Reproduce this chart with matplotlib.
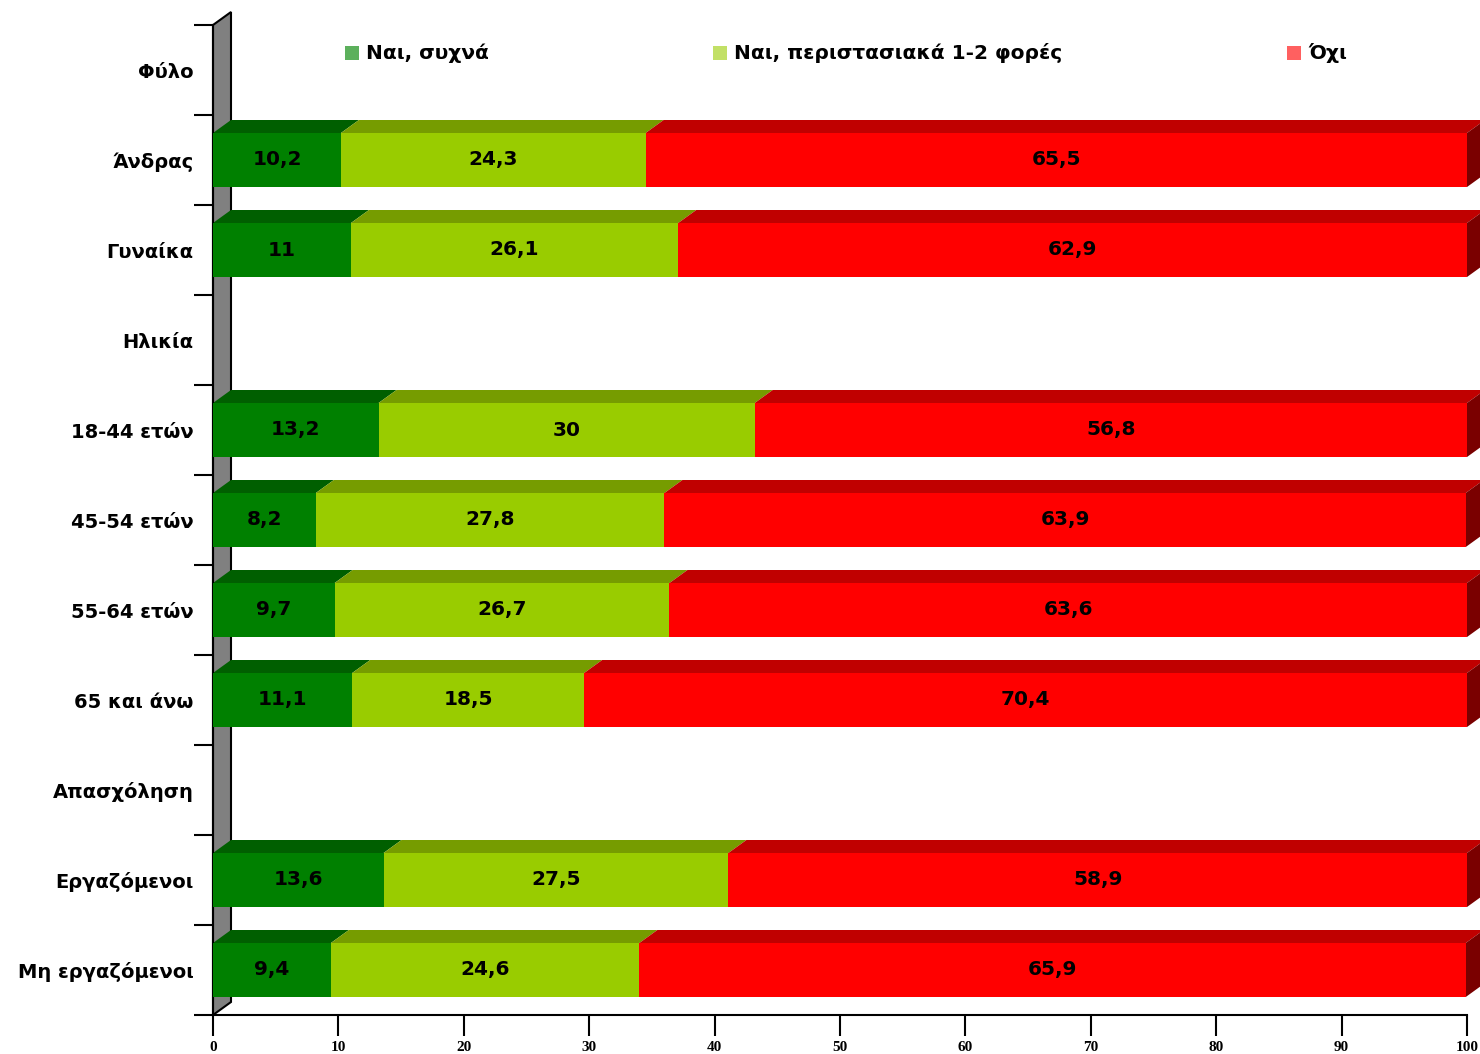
import numpy as np
import matplotlib.pyplot as plt
from matplotlib.patches import Polygon, Rectangle

categories = ['Φύλο', 'Άνδρας', 'Γυναίκα', 'Ηλικία', '18-44 ετών', '45-54 ετών',
              '55-64 ετών', '65 και άνω', 'Απασχόληση', 'Εργαζόμενοι', 'Μη εργαζόμενοι']
often = [np.nan, 10.2, 11, np.nan, 13.2, 8.2, 9.7, 11.1, np.nan, 13.6, 9.4]
occasionally = [np.nan, 24.3, 26.1, np.nan, 30, 27.8, 26.7, 18.5, np.nan, 27.5, 24.6]
no = [np.nan, 65.5, 62.9, np.nan, 56.8, 63.9, 63.6, 70.4, np.nan, 58.9, 65.9]
series_names = ['Ναι, συχνά', 'Ναι, περιστασιακά 1-2 φορές', 'Όχι']
xticks = list(range(0, 101, 10))

front = ['#008000', '#99CC00', '#FF0000']
top = ['#005F00', '#769C00', '#C00000']
side = '#7A0000'
legend_col = ['#5CB05C', '#C2E066', '#FF6060']

W, H = 1480, 1054
fig = plt.figure(figsize=(W / 100, H / 100), dpi=100)
ax = fig.add_axes([213 / W, (H - 1015) / H, (1467 - 213) / W, 990 / H])

n = len(categories)
ax.set_xlim(0, 100)
ax.set_ylim(n - 0.5, -0.5)

dx = 18 / 1254 * 100   # depth offset in data units
dy = 13 / 90
bh = 0.6

# side wall
wall = Polygon([(0, n - 0.5), (0, -0.5), (dx, -0.5 - dy), (dx, n - 0.5 - dy)],
               closed=True, facecolor='#808080', edgecolor='black', lw=1.5,
               clip_on=False, zorder=1)
ax.add_patch(wall)

data = np.array([often, occasionally, no], dtype=float)
y = np.arange(n)
left = np.zeros(n)
for k in range(3):
    vals = data[k]
    ok = ~np.isnan(vals)
    ax.barh(y[ok], vals[ok], left=left[ok], height=bh, color=front[k],
            edgecolor='none', zorder=3)
    for i in np.where(ok)[0]:
        x0, x1 = left[i], left[i] + vals[i]
        yt = i - bh / 2
        ax.add_patch(Polygon([(x0, yt), (x1, yt), (x1 + dx, yt - dy), (x0 + dx, yt - dy)],
                             closed=True, facecolor=top[k], edgecolor='none',
                             clip_on=False, zorder=2))
        if k == 2:
            ax.add_patch(Polygon([(x1, yt), (x1 + dx, yt - dy), (x1 + dx, yt + bh - dy), (x1, yt + bh)],
                                 closed=True, facecolor=side, edgecolor='none',
                                 clip_on=False, zorder=2))
        lab = ('%g' % vals[i]).replace('.', ',')
        ax.text((x0 + x1) / 2, i, lab, ha='center', va='center',
                fontsize=14.5, fontweight='bold', zorder=5)
    left[ok] += vals[ok]

# axes styling
for s in ['top', 'right']:
    ax.spines[s].set_visible(False)
ax.spines['left'].set_linewidth(1.5)
ax.spines['bottom'].set_linewidth(1.5)
ax.set_xticks(xticks)
ax.set_xticklabels([str(t) for t in xticks], fontsize=11, fontweight='bold',
                   family='Liberation Serif')
ax.tick_params(axis='x', length=15, width=1.5, pad=4)

ax.set_yticks(np.arange(-0.5, n, 1))
ax.set_yticklabels([])
ax.tick_params(axis='y', which='major', length=14, width=1.5)
ax.set_yticks(y, minor=True)
ax.set_yticklabels(categories, minor=True, fontsize=14, fontweight='bold')
ax.tick_params(axis='y', which='minor', length=0, pad=14)

# legend
for xs, name, c in zip([345, 713, 1287], series_names, legend_col):
    fig.patches.append(Rectangle((xs / W, (H - 60) / H), 14 / W, 14 / H,
                                 transform=fig.transFigure, facecolor=c,
                                 edgecolor='none'))
    fig.text((xs + 21) / W, (H - 53) / H, name, fontsize=14.5, fontweight='bold',
             va='center', ha='left')

fig.savefig('out.png', dpi=100)
